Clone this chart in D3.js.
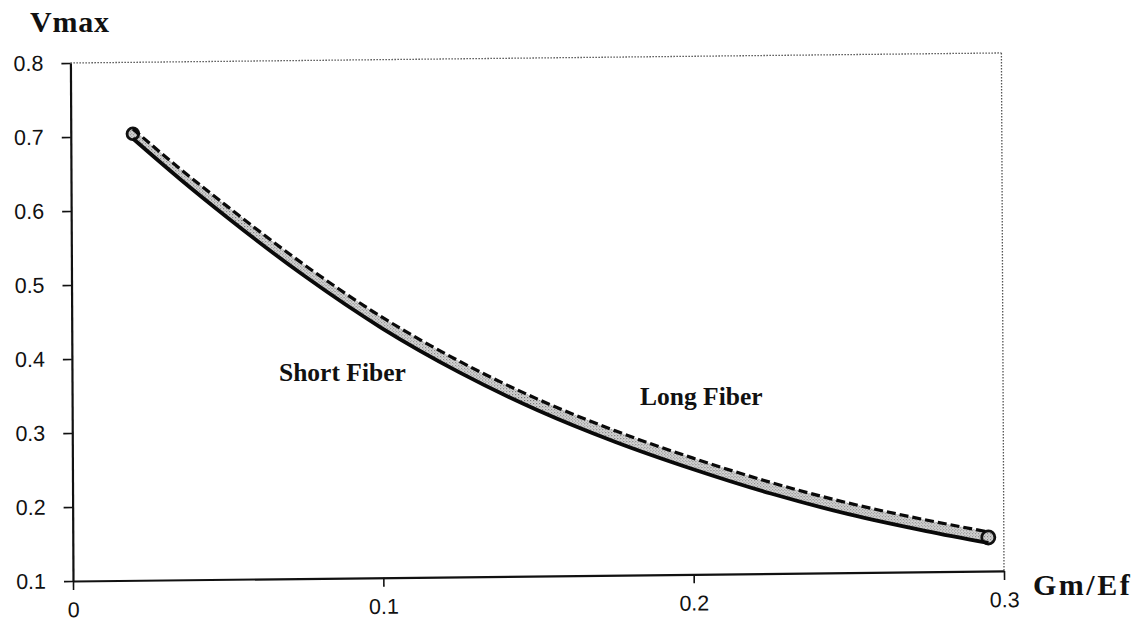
<!DOCTYPE html>
<html>
<head>
<meta charset="utf-8">
<script src="https://cdn.jsdelivr.net/npm/d3@7"></script>
<style>
  html, body { margin: 0; padding: 0; background: #fff; }
  svg { display: block; }
</style>
</head>
<body>
<svg id="chart" width="1135" height="624"></svg>
<script>
// ---- data ----
const gmEf       = [0.02, 0.035, 0.05, 0.075, 0.10, 0.125, 0.15, 0.175, 0.20, 0.225, 0.25, 0.275, 0.295];
const shortFiber = [0.697, 0.642, 0.590, 0.509, 0.437, 0.376, 0.324, 0.280, 0.242, 0.208, 0.179, 0.155, 0.138];
const longFiber  = [0.710, 0.656, 0.605, 0.524, 0.452, 0.391, 0.339, 0.295, 0.257, 0.223, 0.194, 0.170, 0.153];
const xTickValues = [0, 0.1, 0.2, 0.3];
const yTickValues = [0.1, 0.2, 0.3, 0.4, 0.5, 0.6, 0.7, 0.8];
const xTitle = "Gm/Ef";
const yTitle = "Vmax";
const seriesLabels = ["Short Fiber", "Long Fiber"];

const svg = d3.select("#chart");

// stipple pattern for the band between the two curves
const defs = svg.append("defs");
const pat = defs.append("pattern").attr("id", "stipple")
  .attr("width", 3).attr("height", 3).attr("patternUnits", "userSpaceOnUse");
pat.append("rect").attr("width", 3).attr("height", 3).attr("fill", "#d4d4d4");
pat.append("rect").attr("x", 0).attr("y", 0).attr("width", 1).attr("height", 1).attr("fill", "#6a6a6a");
pat.append("rect").attr("x", 1.5).attr("y", 1.5).attr("width", 1).attr("height", 1).attr("fill", "#8a8a8a");

const x = d3.scaleLinear().domain([0, 0.3]).range([73, 1004]);
const y = d3.scaleLinear().domain([0.1, 0.8]).range([581, 63]);

// the scanned original is slightly skewed
const g = svg.append("g")
  .attr("transform", "matrix(1,-0.0108,0.005,1,-2.905,0.788)");

// frame: dotted top & right
g.append("line")
  .attr("x1", x(0)).attr("x2", x(0.3)).attr("y1", y(0.8)).attr("y2", y(0.8))
  .attr("stroke", "#555").attr("stroke-width", 1.3).attr("stroke-dasharray", "1.5,1.5");
g.append("line")
  .attr("x1", x(0.3)).attr("x2", x(0.3)).attr("y1", y(0.8)).attr("y2", y(0.1))
  .attr("stroke", "#555").attr("stroke-width", 1.3).attr("stroke-dasharray", "1.5,1.5");

// axes
const fmtX = d => d === 0 ? "0" : d3.format(".1f")(d);
const xAxis = g.append("g").attr("transform", `translate(0,${y(0.1)})`)
  .call(d3.axisBottom(x).tickValues(xTickValues).tickFormat(fmtX)
    .tickSize(9).tickSizeOuter(0).tickPadding(12));
const yAxis = g.append("g").attr("transform", `translate(${x(0)},0)`)
  .call(d3.axisLeft(y).tickValues(yTickValues).tickFormat(d3.format(".1f"))
    .tickSize(9).tickSizeOuter(0).tickPadding(18));

[xAxis, yAxis].forEach(a => {
  a.select(".domain").attr("stroke", "#111").attr("stroke-width", 2.2);
  a.selectAll(".tick line").attr("stroke", "#111").attr("stroke-width", 1.6);
  a.selectAll(".tick text")
    .attr("font-family", "'Liberation Sans', Arial, Helvetica, sans-serif")
    .attr("font-size", 21.5).attr("fill", "#111");
});

// band
const idx = d3.range(gmEf.length);
const curve = d3.curveMonotoneX;
const area = d3.area()
  .x(i => x(gmEf[i])).y0(i => y(shortFiber[i])).y1(i => y(longFiber[i])).curve(curve);

g.append("path").datum(idx).attr("d", area).attr("fill", "url(#stipple)");

// rounded end caps
[0, gmEf.length - 1].forEach(i => {
  const cy = (y(shortFiber[i]) + y(longFiber[i])) / 2;
  const r = (y(shortFiber[i]) - y(longFiber[i])) / 2 + 1;
  g.append("circle").attr("cx", x(gmEf[i])).attr("cy", cy).attr("r", r)
    .attr("fill", "url(#stipple)").attr("stroke", "#111").attr("stroke-width", 2.8);
});

const lineShort = d3.line().x(i => x(gmEf[i])).y(i => y(shortFiber[i])).curve(curve);
const lineLong  = d3.line().x(i => x(gmEf[i])).y(i => y(longFiber[i])).curve(curve);

g.append("path").datum(idx).attr("d", lineShort)
  .attr("fill", "none").attr("stroke", "#0a0a0a").attr("stroke-width", 3.8);
g.append("path").datum(idx).attr("d", lineLong)
  .attr("fill", "none").attr("stroke", "#0a0a0a").attr("stroke-width", 3.2)
  .attr("stroke-dasharray", "9,4");

// titles & annotations
const serif = "'Liberation Serif', 'Times New Roman', Times, serif";
svg.append("text").text(yTitle)
  .attr("x", 30).attr("y", 32)
  .attr("font-family", serif).attr("font-weight", "bold").attr("font-size", 30)
  .attr("letter-spacing", 0.8).attr("fill", "#111");
svg.append("text").text(xTitle)
  .attr("x", 1033).attr("y", 595)
  .attr("font-family", serif).attr("font-weight", "bold").attr("font-size", 30)
  .attr("letter-spacing", 2.5).attr("fill", "#111");
svg.append("text").text(seriesLabels[0])
  .attr("x", 279).attr("y", 381)
  .attr("font-family", serif).attr("font-weight", "bold").attr("font-size", 25.5).attr("fill", "#111");
svg.append("text").text(seriesLabels[1])
  .attr("x", 640).attr("y", 405)
  .attr("font-family", serif).attr("font-weight", "bold").attr("font-size", 25.5).attr("fill", "#111");
</script>
</body>
</html>
